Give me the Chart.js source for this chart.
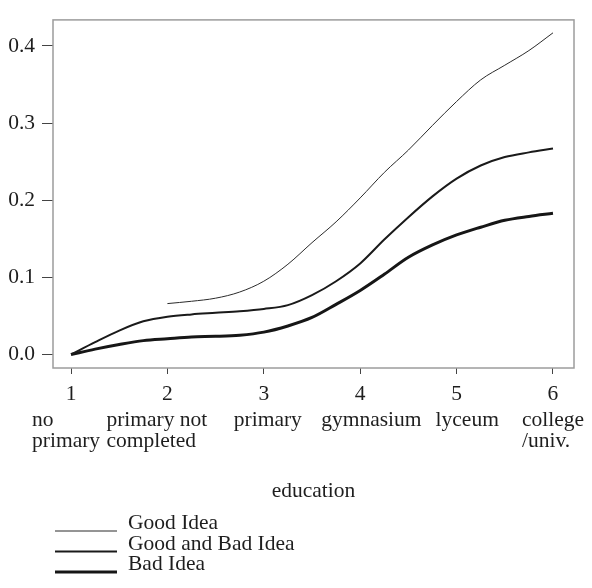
<!DOCTYPE html>
<html>
<head>
<meta charset="utf-8">
<script src="https://cdn.jsdelivr.net/npm/chart.js@4"></script>
<style>
  html, body { margin: 0; padding: 0; background: #fff; }
  #wrap { width: 592px; height: 588px; }
</style>
</head>
<body>
<div id="wrap"><canvas id="chart" width="592" height="588"></canvas></div>
<script>
// education level (smoothed curve, evaluated every quarter step)
const eduLevels = [1, 1.25, 1.5, 1.75, 2, 2.25, 2.5, 2.75, 3, 3.25, 3.5, 3.75, 4, 4.25, 4.5, 4.75, 5, 5.25, 5.5, 5.75, 6];
const goodIdea = [null, null, null, null, 0.066, 0.069, 0.073, 0.081, 0.095, 0.117, 0.145, 0.172, 0.203, 0.236, 0.265, 0.297, 0.328, 0.356, 0.375, 0.394, 0.417];
const goodAndBad = [0, 0.016, 0.031, 0.043, 0.049, 0.052, 0.054, 0.056, 0.059, 0.064, 0.077, 0.095, 0.118, 0.149, 0.178, 0.205, 0.228, 0.245, 0.256, 0.262, 0.267];
const badIdea = [0, 0.007, 0.013, 0.018, 0.0205, 0.0228, 0.0235, 0.025, 0.029, 0.037, 0.048, 0.065, 0.083, 0.104, 0.126, 0.142, 0.155, 0.165, 0.174, 0.179, 0.183];

const seriesNames = ['Good Idea', 'Good and Bad Idea', 'Bad Idea'];
const xTicks = [1, 2, 3, 4, 5, 6];
const yTicks = [0, 0.1, 0.2, 0.3, 0.4];
const categoryNames = [['no', 'primary'], ['primary not', 'completed'], ['primary'], ['gymnasium'], ['lyceum'], ['college', '/univ.']];
const xTitle = 'education';

// layout bits (not data)
const labelShift = [-39, -61, -30, -39, -21, -31];
const serif = '"Liberation Serif", "Times New Roman", serif';
const fontSize = 21.5;
const ink = '#1e1e1e';

const toPoints = vals => eduLevels.map((x, i) => ({ x: x, y: vals[i] }));

const decorations = {
  id: 'decorations',
  afterDraw(chart) {
    const { ctx, chartArea } = chart;
    const xScale = chart.scales.x;
    ctx.save();

    // frame round the plot
    ctx.strokeStyle = '#9c9c9c';
    ctx.lineWidth = 1.5;
    ctx.strokeRect(chartArea.left, chartArea.top, chartArea.right - chartArea.left, chartArea.bottom - chartArea.top);

    // category names under the numbers
    ctx.fillStyle = ink;
    ctx.font = fontSize + 'px ' + serif;
    ctx.textAlign = 'left';
    ctx.textBaseline = 'alphabetic';
    categoryNames.forEach((lines, i) => {
      const x = xScale.getPixelForValue(xTicks[i]) + labelShift[i];
      lines.forEach((line, j) => {
        ctx.fillText(line, x, chartArea.bottom + 58 + j * 21);
      });
    });

    // axis title
    ctx.textAlign = 'center';
    ctx.fillText(xTitle, (chartArea.left + chartArea.right) / 2, chartArea.bottom + 129);

    // legend, one row per series
    ctx.textAlign = 'left';
    chart.data.datasets.forEach((ds, i) => {
      const y = 531 + i * 20.5;
      ctx.strokeStyle = ds.borderColor;
      ctx.lineWidth = ds.borderWidth;
      ctx.beginPath();
      ctx.moveTo(55, y);
      ctx.lineTo(117, y);
      ctx.stroke();
      ctx.fillText(ds.label, 128, y - 2);
    });

    ctx.restore();
  }
};

new Chart(document.getElementById('chart'), {
  type: 'line',
  data: {
    datasets: [
      { label: seriesNames[0], data: toPoints(goodIdea), borderColor: '#2a2a2a', borderWidth: 1 },
      { label: seriesNames[1], data: toPoints(goodAndBad), borderColor: '#1a1a1a', borderWidth: 2 },
      { label: seriesNames[2], data: toPoints(badIdea), borderColor: '#161616', borderWidth: 3 }
    ]
  },
  options: {
    responsive: false,
    animation: false,
    devicePixelRatio: 1,
    layout: { padding: { top: 7, right: 18, left: 0, bottom: 0 } },
    elements: {
      point: { radius: 0 },
      line: { tension: 0.3, cubicInterpolationMode: 'monotone', fill: false }
    },
    plugins: {
      legend: { display: false },
      tooltip: { enabled: false }
    },
    scales: {
      x: {
        type: 'linear',
        min: 0.813,
        max: 6.218,
        afterFit: scale => { scale.height = 220; },
        afterBuildTicks: scale => { scale.ticks = xTicks.map(v => ({ value: v })); },
        border: { display: false },
        grid: { drawOnChartArea: false, drawTicks: true, tickLength: 6, tickColor: '#444', lineWidth: 1 },
        ticks: {
          padding: 7,
          color: ink,
          font: { family: serif, size: fontSize },
          callback: v => String(v)
        }
      },
      y: {
        min: -0.0175,
        max: 0.43375,
        afterFit: scale => { scale.width = 53; },
        afterBuildTicks: scale => { scale.ticks = yTicks.map(v => ({ value: v })); },
        border: { display: false },
        grid: { drawOnChartArea: false, drawTicks: true, tickLength: 11, tickColor: '#444', lineWidth: 1 },
        ticks: {
          padding: 7,
          color: ink,
          font: { family: serif, size: fontSize },
          callback: v => v.toFixed(1)
        }
      }
    }
  },
  plugins: [decorations]
});
</script>
</body>
</html>
